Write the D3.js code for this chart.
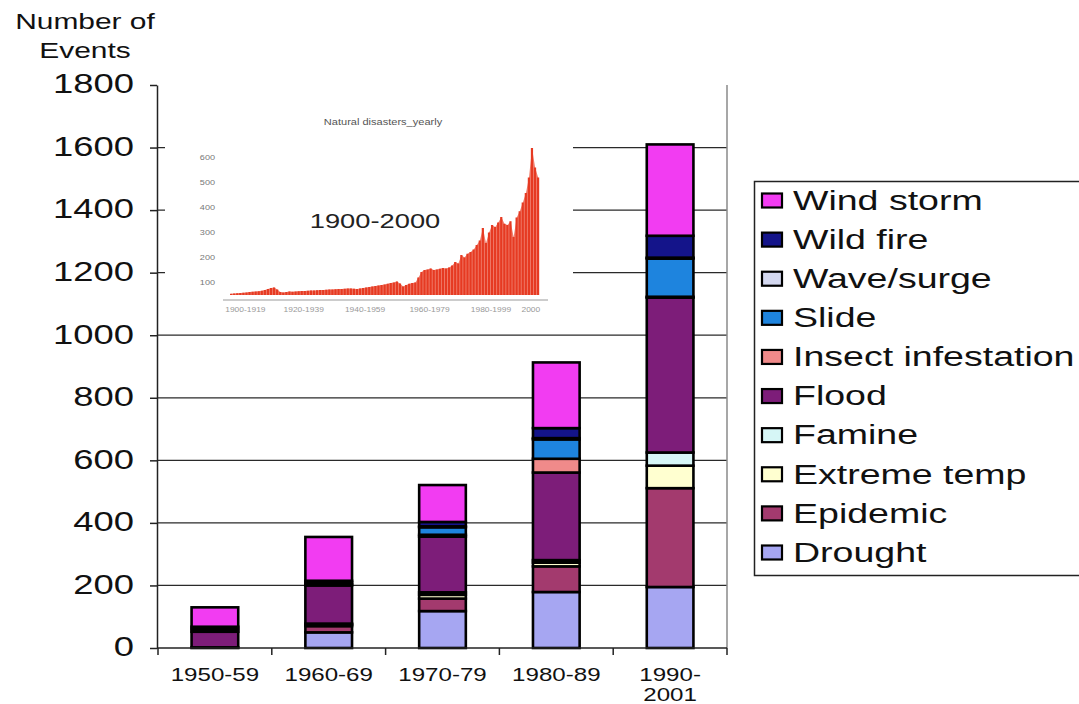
<!DOCTYPE html>
<html><head><meta charset="utf-8">
<script src="https://cdn.jsdelivr.net/npm/d3@7"></script>
<style>
html,body{margin:0;padding:0;background:#fff;}
svg{display:block;font-family:"Liberation Sans",Arial,Helvetica,sans-serif;}
</style></head><body>
<svg id="chart" width="1079" height="704"></svg>
<script>
// ---------- DATA ----------
const categories = ["1950-59","1960-69","1970-79","1980-89","1990-2001"];
const categoryLines = [["1950-59"],["1960-69"],["1970-79"],["1980-89"],["1990-","2001"]];
const drought      = [0, 50, 118, 179, 195];
const epidemic     = [2, 20, 40, 82, 316];
const extremeTemp  = [0, 5, 12, 12, 72];
const famine       = [0, 3, 8, 8, 42];
const flood        = [50, 122, 178, 280, 495];
const insect       = [0, 3, 6, 44, 3];
const slide        = [8, 6, 24, 62, 122];
const waveSurge    = [0, 0, 3, 4, 3];
const wildFire     = [8, 6, 14, 32, 70];
const windStorm    = [62, 140, 118, 210, 292];
const seriesNames  = ["Drought","Epidemic","Extreme temp","Famine","Flood","Insect infestation","Slide","Wave/surge","Wild fire","Wind storm"];
const seriesValues = [drought, epidemic, extremeTemp, famine, flood, insect, slide, waveSurge, wildFire, windStorm];
const seriesColors = ["#A6A6F2","#A33A6E","#FFFFD0","#D6F6F6","#7D1D79","#F08A8A","#1E84DE","#D4D8F0","#14148A","#F23CF2"];
const yTicks = [0,200,400,600,800,1000,1200,1400,1600,1800];
const gridTicks = [200,400,600,800,1000,1200,1400,1600];
const yTitle = ["Number of","Events"];

// inset: yearly number of disasters 1900-2000 (picture inside the chart)
const insetTitle = "Natural disasters_yearly";
const insetLabel = "1900-2000";
const insetStartYear = 1900;
const insetCounts = [
  55,56,57,58,59,60,62,63,64,65,
  67,70,74,78,80,72,62,60,62,64,
  63,64,65,66,66,67,68,68,69,70,
  70,71,72,72,73,74,74,75,76,76,
  75,74,76,78,80,82,84,86,88,90,
  92,95,98,100,104,96,84,90,95,98,
  100,120,142,150,152,156,150,152,155,158,
  156,160,168,182,176,210,200,215,222,232,
  250,268,318,258,300,330,322,340,362,335,
  330,345,282,360,385,420,458,520,638,560,
  520];
const insetYTicks = [100,200,300,400,500,600];
const insetXLabels = ["1900-1919","1920-1939","1940-1959","1960-1979","1980-1999","2000"];
const insetXLabelYears = [1905,1924,1944,1965,1985,1998];

// ---------- LAYOUT ----------
const SX = 1.3;   // horizontal stretch of the text in the reference
const SXL = 1.34; // legend text stretch
const svg = d3.select("#chart");
svg.append("rect").attr("width",1079).attr("height",704).attr("fill","#fff");

const plot = {left:157, right:727, top:85, bottom:648};
const x = d3.scaleBand().domain(categories).range([plot.left+1, plot.right]).paddingInner(0.59).paddingOuter(0.295);
const y = d3.scaleLinear().domain([0,1800]).range([plot.bottom, plot.top]);

// gridlines
svg.append("g").selectAll("line").data(gridTicks).join("line")
  .attr("x1",plot.left).attr("x2",plot.right)
  .attr("y1",d=>y(d)).attr("y2",d=>y(d))
  .attr("stroke","#2a2a2a").attr("stroke-width",1.2);
// right border
svg.append("line").attr("x1",plot.right).attr("x2",plot.right).attr("y1",plot.top).attr("y2",plot.bottom)
  .attr("stroke","#8a8a8a").attr("stroke-width",1.5);

// ---------- INSET ----------
const inset = svg.append("g");
inset.append("rect").attr("x",165).attr("y",92).attr("width",408).attr("height",226).attr("fill","#fff");
const ix = d3.scaleLinear().domain([1900,2000]).range([230,537]);
const iy = d3.scaleLinear().domain([50,650]).range([295,145]);
const insetData = insetCounts.map((v,i)=>({year: insetStartYear+i, v}));
inset.append("path").datum(insetData)
  .attr("d", d3.area().x(d=>ix(d.year)+1.2).y0(iy(50)).y1(d=>iy(d.v)))
  .attr("fill","#f08070");
inset.append("g").selectAll("rect").data(insetData).join("rect")
  .attr("x",d=>ix(d.year)).attr("width",2.2)
  .attr("y",d=>iy(d.v)).attr("height",d=>iy(50)-iy(d.v))
  .attr("fill","#e63a22");
inset.append("line").attr("x1",223).attr("x2",548).attr("y1",300).attr("y2",300)
  .attr("stroke","#9a9a9a").attr("stroke-width",1);
inset.append("g").selectAll("text").data(insetYTicks).join("text")
  .attr("transform",d=>`translate(215,${iy(d)}) scale(${SX},1)`)
  .attr("text-anchor","end").attr("dy","0.35em")
  .attr("font-size",7).attr("fill","#777").text(d=>d);
inset.append("g").selectAll("text").data(insetXLabels).join("text")
  .attr("transform",(d,i)=>`translate(${ix(insetXLabelYears[i])},312) scale(${SX},1)`)
  .attr("text-anchor","middle").attr("font-size",6.5).attr("fill","#999").text(d=>d);
inset.append("text").attr("transform",`translate(383,125) scale(${SX},1)`)
  .attr("text-anchor","middle").attr("font-size",8.5).attr("fill","#555").text(insetTitle);
inset.append("text").attr("transform",`translate(375,228) scale(${SX},1)`)
  .attr("text-anchor","middle").attr("font-size",21).attr("fill","#222").text(insetLabel);

// ---------- BARS ----------
const table = categories.map((c,i)=>{
  const row = {category:c};
  seriesNames.forEach((s,k)=>row[s]=seriesValues[k][i]);
  return row;
});
const stack = d3.stack().keys(seriesNames)(table);
const bars = svg.append("g");
stack.forEach((layer,k)=>{
  bars.append("g").selectAll("rect").data(layer.filter(d=>d[1]-d[0]>0)).join("rect")
    .attr("x",d=>x(d.data.category)).attr("width",x.bandwidth())
    .attr("y",d=>y(d[1])).attr("height",d=>y(d[0])-y(d[1]))
    .attr("fill",seriesColors[k]).attr("stroke","#000").attr("stroke-width",2.6);
});

// ---------- AXES ----------
const yAxis = svg.append("g").attr("transform",`translate(${plot.left},0)`)
  .call(d3.axisLeft(y).tickValues(yTicks).tickSize(7).tickSizeOuter(0).tickFormat(d3.format("d")));
yAxis.attr("font-size",28).attr("font-family",null);
yAxis.select(".domain").attr("stroke","#222").attr("stroke-width",1.5);
yAxis.selectAll(".tick line").attr("stroke","#222").attr("stroke-width",1.5);
yAxis.selectAll(".tick text").attr("x",-23/SX).attr("dy","0.28em")
  .attr("transform",`scale(${SX},1)`).attr("fill","#111");

// x axis line and ticks
svg.append("line").attr("x1",plot.left).attr("x2",plot.right).attr("y1",plot.bottom).attr("y2",plot.bottom)
  .attr("stroke","#222").attr("stroke-width",1.5);
const step = x.step();
const boundaries = categories.map(c=>x(c)+x.bandwidth()/2-step/2).concat([x(categories[4])+x.bandwidth()/2+step/2]);
svg.append("g").selectAll("line").data(boundaries).join("line")
  .attr("x1",d=>d).attr("x2",d=>d).attr("y1",plot.bottom).attr("y2",plot.bottom+7)
  .attr("stroke","#222").attr("stroke-width",1.5);
const xl = svg.append("g");
categories.forEach((c,i)=>{
  categoryLines[i].forEach((line,j)=>{
    xl.append("text")
      .attr("transform",`translate(${x(c)+x.bandwidth()/2},${681+j*20}) scale(1.34,1)`)
      .attr("text-anchor","middle").attr("font-size",18).attr("fill","#111").text(line);
  });
});

// y title
svg.append("g").selectAll("text").data(yTitle).join("text")
  .attr("transform",(d,i)=>`translate(85,${29+i*29}) scale(1.36,1)`)
  .attr("text-anchor","middle").attr("font-size",22).attr("fill","#111").text(d=>d);

// ---------- LEGEND ----------
const legendOrder = seriesNames.slice().reverse();
const ly = d3.scalePoint().domain(legendOrder).range([200,552]);
const legend = svg.append("g");
legend.append("rect").attr("x",754.5).attr("y",181.5).attr("width",400).attr("height",394)
  .attr("fill","#fff").attr("stroke","#222").attr("stroke-width",1.5);
legendOrder.forEach(name=>{
  const k = seriesNames.indexOf(name);
  legend.append("rect").attr("x",762).attr("y",ly(name)-6.5).attr("width",20).attr("height",14)
    .attr("fill",seriesColors[k]).attr("stroke","#000").attr("stroke-width",2.2);
  legend.append("text").attr("transform",`translate(793,${ly(name)}) scale(${SXL},1)`)
    .attr("dy","0.35em").attr("font-size",28).attr("fill","#111").text(name);
});
</script>
</body></html>
